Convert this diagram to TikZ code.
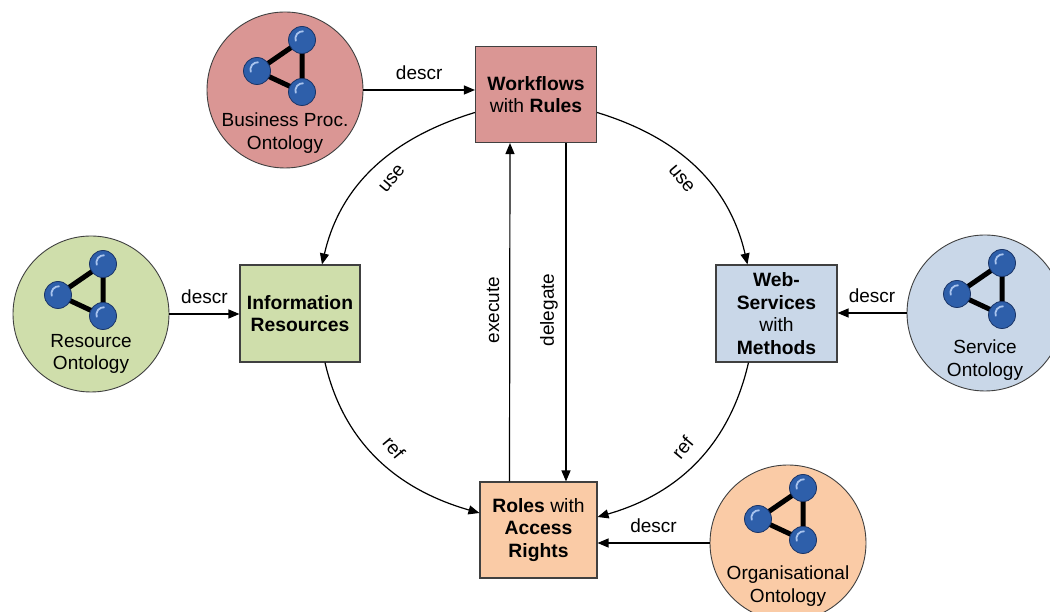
\documentclass[tikz,border=0pt]{standalone}
\usepackage{fontspec}
\setmainfont{Liberation Sans}
\usetikzlibrary{arrows.meta}
\definecolor{redf}{HTML}{DA9694}
\definecolor{greenf}{HTML}{CFDEAB}
\definecolor{bluef}{HTML}{C9D7E8}
\definecolor{orangef}{HTML}{FACBA6}
\definecolor{ballblue}{HTML}{2E5FAA}
\definecolor{balledge}{HTML}{1A3466}
\definecolor{hlblue}{HTML}{A9C4EE}
\definecolor{edgegray}{HTML}{404040}
\tikzset{
 box/.style={draw=edgegray, line width=1.1pt, minimum width=120pt, minimum height=96pt, align=center, inner sep=2pt, font=\fontsize{19.3}{22.5}\selectfont},
 onto/.style={circle, draw=edgegray, line width=0.9pt, minimum size=156pt, inner sep=0pt},
 otext/.style={align=center, font=\fontsize{19}{22.5}\selectfont, inner sep=0pt},
 arr/.style={line width=1.2pt, -{Triangle[length=11pt,width=9pt]}},
 lbl/.style={font=\fontsize{19}{22.5}\selectfont, inner sep=0pt},
 ball/.style={circle, fill=ballblue, draw=balledge, line width=0.8pt, minimum size=27pt, inner sep=0pt,
   path picture={\draw[line width=1.8pt, hlblue] ([shift={(-6.2pt,-1.3pt)}]path picture bounding box.center) arc[start angle=200, end angle=85, radius=7.5pt];}},
 bond/.style={line width=5pt, black},
 ontoicon/.pic={
   \coordinate (-t) at (15,50);
   \coordinate (-l) at (-30,19);
   \coordinate (-b) at (15,-2);
   \draw[bond] (-t) -- (-l) -- (-b) -- cycle;
   \node[ball] (-bt) at (-t) {};
   \node[ball] (-bl) at (-l) {};
   \node[ball] (-bb) at (-b) {};
 }
}
\begin{document}
\begin{tikzpicture}[x=1pt,y=1pt]
\useasboundingbox (0,0) rectangle (1050,612);
\clip (0,0) rectangle (1050,612);

% boxes
\node[box, fill=redf, minimum width=121pt] (wf) at (536,517.5) {\textbf{Workflows}\\with \textbf{Rules}};
\node[box, fill=greenf, minimum height=97pt] (info) at (300,298.5) {\textbf{Information}\\\textbf{Resources}};
\node[box, fill=bluef, minimum width=121pt, minimum height=97pt] (web) at (776.5,298.5) {\textbf{Web-}\\\textbf{Services}\\with\\\textbf{Methods}};
\node[box, fill=orangef, minimum width=117pt] (roles) at (538.5,82) {\textbf{Roles} with\\\textbf{Access}\\\textbf{Rights}};

% ontology circles
\node[onto, fill=redf] (bp) at (285,522) {};
\pic (bpi) at ([xshift=2pt]bp.center) {ontoicon};
\node[otext] (bpt) at ([yshift=-43pt]bp.center) {Business Proc.\\Ontology};

\node[onto, fill=greenf] (res) at (91,298) {};
\pic (resi) at ([xshift=-3pt]res.center) {ontoicon};
\node[otext] (rest) at ([yshift=-40pt]res.center) {Resource\\Ontology};

\node[onto, fill=bluef] (srv) at (985,299) {};
\pic (srvi) at ([xshift=2pt]srv.center) {ontoicon};
\node[otext] (srvt) at ([yshift=-47pt]srv.center) {Service\\Ontology};

\node[onto, fill=orangef] (org) at (788,69) {};
\pic (orgi) at ([yshift=5pt]org.center) {ontoicon};
\node[otext] (orgt) at ([yshift=-43pt]org.center) {Organisational\\Ontology};

% descr edges
\draw[arr] (bp.east) -- node[lbl, above=10pt] {descr} (wf.west |- bp.east);
\draw[arr] (res.east) -- node[lbl, above=10pt] {descr} (info.west |- res.east);
\draw[arr] (srv.west) -- node[lbl, above=10pt] {descr} (web.east |- srv.west);
\draw[arr] (org.west) -- node[lbl, above=10pt] {descr} (roles.east |- org.west);

% use / ref arcs
\draw[arr] ([yshift=-18pt]wf.west) to[out=197,in=77] ([xshift=22pt]info.north);
\draw[arr] ([yshift=-18pt]wf.east) to[out=-17,in=103] ([xshift=-29pt]web.north);
\draw[arr] ([xshift=25pt]info.south) to[out=283,in=164] ([yshift=17pt]roles.west);
\draw[arr] ([xshift=-28pt]web.south) to[out=257,in=16] ([yshift=13pt]roles.east);

% execute / delegate
\draw[arr] ([xshift=-29pt]roles.north) -- ([xshift=-26pt]wf.south);
\draw[arr] ([xshift=30pt]wf.south) -- ([xshift=27.5pt]roles.north);

% labels
\node[lbl, rotate=50] (use1) at (392,433) {use};
\node[lbl, rotate=-50] (use2) at (681.5,433) {use};
\node[lbl, rotate=-50] (ref1) at (394,164) {ref};
\node[lbl, rotate=50] (ref2) at (682.5,164) {ref};
\node[lbl, rotate=90] (exe) at (493,302) {execute};
\node[lbl, rotate=90] (del) at (549,302) {delegate};
\end{tikzpicture}
\end{document}
